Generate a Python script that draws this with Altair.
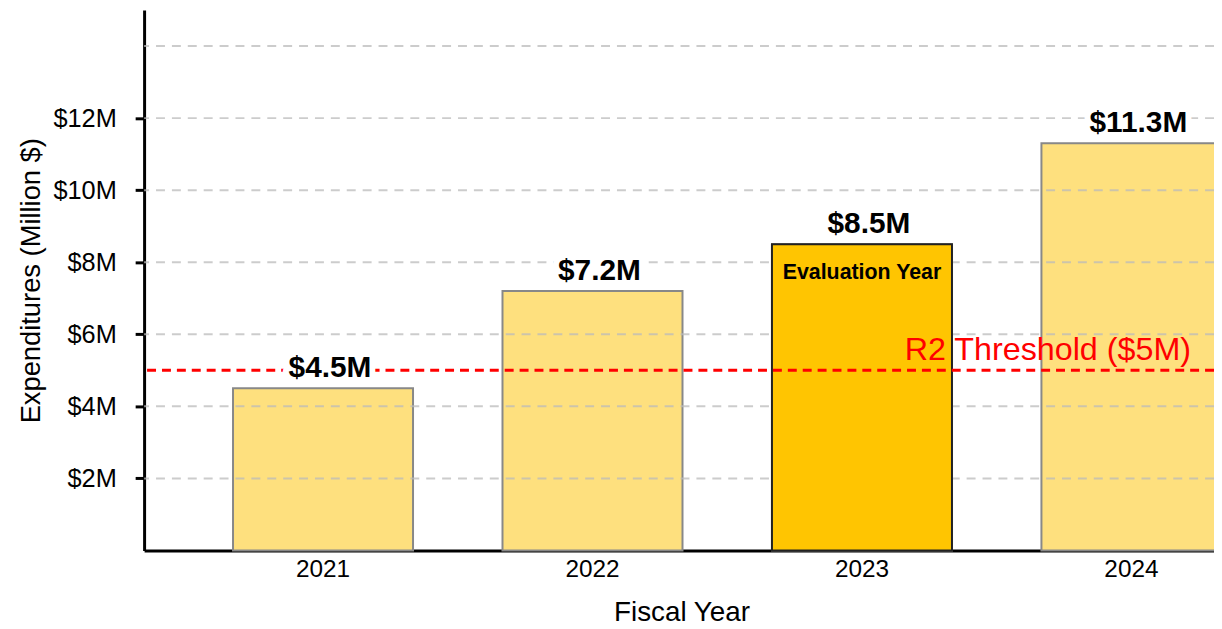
import altair as alt
import pandas as pd

# ---- data ----
years = ["2021", "2022", "2023", "2024"]
values = [4.5, 7.2, 8.5, 11.3]
value_labels = ["$4.5M", "$7.2M", "$8.5M", "$11.3M"]
highlight_year = "2023"
highlight_note = "Evaluation Year"
grid_values = [2, 4, 6, 8, 10, 12, 14]
tick_values = [2, 4, 6, 8, 10, 12]
threshold = 5
threshold_label = "R2 Threshold ($5M)"
threshold_anchor_year = "2024"

FONT = "Liberation Sans"

df = pd.DataFrame({
    "year": years,
    "value": values,
    "label": value_labels,
    "hl": [y == highlight_year for y in years],
})
grid_df = pd.DataFrame({"g": grid_values})
thr_df = pd.DataFrame({"t": [threshold], "year": [threshold_anchor_year], "txt": [threshold_label]})
hl_df = pd.DataFrame({
    "year": [highlight_year],
    "value": [values[years.index(highlight_year)]],
    "note": [highlight_note],
})

x_scale = alt.Scale(domain=years, paddingInner=0.332, paddingOuter=0.33, range=[0, 1174])
y_scale = alt.Scale(domain=[0, 15], nice=False, zero=True)

x_enc = alt.X(
    "year:N", scale=x_scale, sort=years,
    axis=alt.Axis(
        title="Fiscal Year", labelAngle=0, ticks=False, grid=False,
        domainColor="black", domainWidth=3,
        labelFont=FONT, labelFontSize=24.5, labelColor="black", labelPadding=7,
        titleFont=FONT, titleFontSize=28, titleFontWeight="normal", titleColor="black",
        titlePadding=18, titleX=541, titleAlign="center",
    ),
)
y_enc = alt.Y(
    "value:Q", scale=y_scale,
    axis=alt.Axis(
        title="Expenditures (Million $)", values=tick_values,
        labelExpr="'$' + datum.value + 'M'", grid=False,
        domainColor="black", domainWidth=3,
        tickColor="black", tickWidth=3, tickSize=9,
        labelFont=FONT, labelFontSize=25.5, labelColor="black", labelPadding=19,
        titleFont=FONT, titleFontSize=27.5, titleFontWeight="normal", titleColor="black",
        titlePadding=8,
    ),
)

base = alt.Chart(df)

bars = base.mark_bar(stroke="#888888", strokeWidth=2, fill="#FEE07E").encode(
    x=x_enc, y=y_enc,
)

grid = alt.Chart(grid_df).mark_rule(
    color="#bbbbbb", strokeWidth=2, strokeDash=[9, 7], opacity=0.75
).encode(y=alt.Y("g:Q", scale=y_scale))

hl_bar = base.transform_filter(alt.datum.hl == True).mark_bar(
    stroke="#222222", strokeWidth=2, fill="#FFC501"
).encode(x=alt.X("year:N", scale=x_scale), y=alt.Y("value:Q", scale=y_scale))

thr_line = alt.Chart(thr_df).mark_rule(
    color="#FF0000", strokeWidth=3, strokeDash=[9, 6]
).encode(y=alt.Y("t:Q", scale=y_scale))

halo = base.mark_text(
    baseline="alphabetic", dy=-11, dx=7, font=FONT, fontSize=30, fontWeight="bold",
    stroke="white", strokeWidth=12, strokeJoin="round", color="white",
).encode(x=alt.X("year:N", scale=x_scale), y=alt.Y("value:Q", scale=y_scale), text="label:N")

vlabels = base.mark_text(
    baseline="alphabetic", dy=-11, dx=7, font=FONT, fontSize=30, fontWeight="bold", color="black",
).encode(x=alt.X("year:N", scale=x_scale), y=alt.Y("value:Q", scale=y_scale), text="label:N")

hl_text = alt.Chart(hl_df).mark_text(
    baseline="middle", dy=29, font=FONT, fontSize=21.5, fontWeight="bold", color="black",
).encode(x=alt.X("year:N", scale=x_scale), y=alt.Y("value:Q", scale=y_scale), text="note:N")

thr_text = alt.Chart(thr_df).mark_text(
    align="right", baseline="alphabetic", dy=-10, xOffset=60,
    font=FONT, fontSize=32.5, color="#FF0000",
).encode(x=alt.X("year:N", scale=x_scale), y=alt.Y("t:Q", scale=y_scale), text="txt:N")

chart = alt.layer(
    bars, grid, hl_bar, thr_line, halo, vlabels, hl_text, thr_text
).properties(
    width=1077, height=544,
    background="white",
    autosize=alt.AutoSizeParams(type="none"),
    padding={"left": 137, "top": 0, "right": 0, "bottom": 77},
).configure_view(strokeWidth=0, stroke="transparent")

chart.save("out.html", embed_options={"renderer": "svg", "actions": False})
